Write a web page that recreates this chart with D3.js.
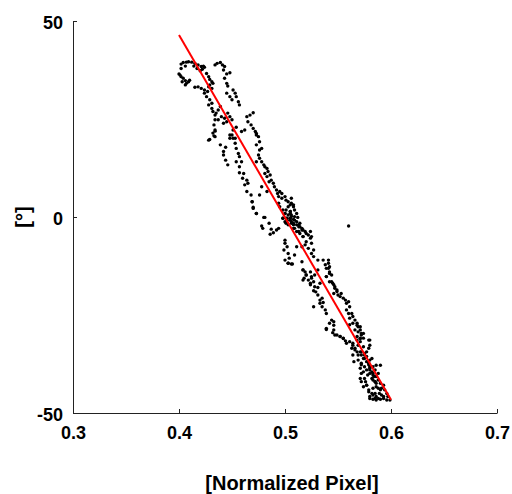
<!DOCTYPE html>
<html>
<head>
<meta charset="utf-8">
<script src="https://cdn.jsdelivr.net/npm/d3@7"></script>
<style>
  body { margin: 0; background: #fff; }
  svg text { font-family: "Liberation Sans", Arial, sans-serif; font-weight: bold; fill: #000; }
</style>
</head>
<body>
<svg id="chart"></svg>
<script>
    // measured samples: [normalized pixel, angle in degrees]
    var samples = [
      [0.402,39.0],[0.404,39.4],[0.407,39.5],[0.409,39.6],[0.412,39.5],[0.415,39.2],[0.418,38.8],[0.421,38.4],
      [0.423,38.5],[0.424,38.2],[0.422,37.7],[0.420,37.3],[0.417,37.9],[0.414,38.5],[0.406,38.5],[0.402,37.9],
      [0.400,36.5],[0.402,35.8],[0.404,35.4],[0.406,34.8],[0.403,34.5],[0.407,34.1],[0.409,34.5],[0.410,34.9],
      [0.406,33.7],[0.401,36.2],
      [0.434,38.8],[0.436,39.2],[0.439,39.4],[0.441,38.8],[0.443,38.4],[0.442,37.5],[0.445,36.5],[0.448,36.8],
      [0.443,35.4],[0.445,34.1],[0.446,33.4],
      [0.426,36.6],[0.428,35.8],[0.429,35.1],[0.431,34.5],[0.429,33.7],[0.432,34.1],[0.428,33.2],[0.431,32.8],
      [0.427,32.0],[0.424,31.6],[0.424,32.4],[0.421,32.8],[0.418,33.2],[0.415,33.1],[0.426,30.7],[0.429,29.9],
      [0.431,29.0],[0.428,28.6],[0.431,27.7],[0.432,26.9],[0.434,26.0],[0.435,26.5],[0.437,27.3],[0.439,28.2],
      [0.451,32.4],[0.453,31.6],[0.454,30.7],[0.456,29.4],[0.457,28.6],[0.450,29.9],[0.448,30.7],[0.445,31.6],
      [0.446,26.5],[0.448,25.6],[0.450,24.8],[0.445,24.3],[0.442,23.9],[0.443,25.2],[0.440,25.6],[0.437,24.8],
      [0.434,24.8],[0.433,23.5],[0.434,22.2],[0.432,21.4],[0.434,20.5],[0.429,19.8],
      [0.470,26.6],[0.467,26.0],[0.464,25.6],[0.465,24.3],[0.468,23.5],[0.470,22.6],[0.472,21.8],[0.473,20.9],
      [0.462,22.2],[0.459,21.8],[0.454,22.9],[0.451,22.2],[0.450,20.9],[0.453,20.1],[0.448,20.1],
      [0.434,21.9],[0.433,20.7],[0.428,19.6],[0.439,18.4],[0.444,17.8],[0.442,16.7],[0.442,15.8],[0.444,14.5],
      [0.446,13.3],[0.448,20.9],[0.451,20.1],[0.453,18.8],[0.454,17.5],[0.456,16.2],[0.457,15.4],[0.459,14.1],
      [0.454,14.1],[0.457,12.8],[0.457,11.3],[0.461,11.1],[0.460,9.9],[0.464,9.4],[0.465,8.6],[0.462,8.2],
      [0.464,6.5],[0.468,5.6],[0.469,3.9],[0.470,2.2],[0.473,0.9],[0.480,-0.1],
      [0.473,21.3],[0.475,20.5],[0.476,19.2],[0.473,18.4],[0.478,17.5],[0.476,17.1],[0.475,15.8],[0.476,15.0],
      [0.473,14.1],[0.478,14.1],[0.480,13.3],[0.481,12.8],[0.483,12.4],[0.484,11.6],[0.481,11.1],[0.483,10.3],
      [0.486,10.7],[0.487,9.4],[0.485,9.0],[0.478,7.7],[0.489,8.6],[0.490,7.7],[0.492,6.9],[0.493,6.0],
      [0.495,6.5],[0.497,6.0],[0.494,5.2],[0.497,4.8],[0.500,5.2],[0.501,4.3],[0.503,3.9],[0.506,4.8],
      [0.505,3.1],[0.508,2.6],[0.501,1.8],[0.505,1.4],[0.509,1.8],[0.511,0.9],[0.506,0.1],[0.512,-0.1],
      [0.501,-0.3],[0.508,-0.6],[0.476,5.6],[0.483,6.5],
      [0.469,3.9],[0.470,2.5],[0.473,0.9],[0.481,-0.1],[0.478,-2.3],[0.479,-2.9],[0.485,-1.6],[0.487,-3.1],
      [0.486,-4.4],[0.489,-4.0],[0.492,-3.3],[0.494,-2.9],[0.494,3.5],[0.495,2.6],[0.498,1.8],[0.500,0.9],
      [0.503,2.6],[0.506,3.5],[0.508,3.1],[0.505,0.9],[0.498,-0.3],[0.500,-1.2],[0.502,-0.3],[0.505,-0.8],
      [0.506,-1.6],[0.508,-2.0],[0.511,-1.2],[0.513,-2.0],[0.509,-2.9],[0.514,-2.5],[0.511,-3.7],[0.514,-4.2],
      [0.516,-3.3],[0.519,-3.7],[0.517,-5.0],[0.522,-4.6],[0.524,-5.4],[0.520,-6.3],[0.519,-7.1],[0.516,-7.6],
      [0.511,-7.6],[0.522,-8.0],[0.525,-6.7],[0.527,-8.4],[0.525,-9.3],[0.527,-10.1],
      [0.500,0.9],[0.503,0.5],[0.505,-0.3],[0.502,-0.8],[0.506,-1.2],[0.508,-1.6],[0.509,-0.8],[0.511,-2.0],
      [0.513,-2.5],[0.514,-1.6],[0.516,-2.9],[0.517,-3.3],[0.505,1.4],[0.498,-0.3],[0.501,-1.6],[0.503,-2.0],
      [0.508,-2.9],[0.513,-3.7],[0.509,0.1],[0.506,0.5],[0.520,-4.2],[0.524,-3.7],[0.525,-5.0],[0.517,-5.0],
      [0.500,-5.9],[0.500,-6.7],[0.502,-7.6],[0.499,-8.4],[0.503,-9.3],[0.500,-11.0],[0.503,-11.8],[0.506,-12.0],
      [0.504,-10.5],[0.509,-9.7],[0.516,-11.4],[0.517,-13.5],[0.519,-14.0],[0.520,-14.8],[0.517,-16.1],[0.522,-16.1],
      [0.525,-15.6],[0.524,-16.9],[0.531,-18.0],[0.533,-16.9],[0.528,-14.8],[0.531,-13.5],
      [0.531,-11.0],[0.536,-11.0],[0.541,-11.0],[0.538,-12.2],[0.541,-13.1],[0.542,-14.0],[0.539,-15.2],[0.544,-14.8],
      [0.542,-16.5],[0.545,-16.9],[0.547,-17.8],[0.549,-18.6],[0.560,-2.3],
      [0.503,-11.8],[0.507,-12.0],[0.517,-13.5],[0.520,-14.8],[0.518,-15.6],[0.524,-14.0],[0.525,-15.2],[0.527,-16.5],
      [0.524,-17.3],[0.528,-17.8],[0.527,-18.8],[0.529,-19.1],[0.531,-19.9],[0.533,-21.2],[0.535,-20.7],[0.533,-22.0],
      [0.536,-21.8],[0.535,-22.9],[0.538,-23.7],[0.539,-24.6],[0.527,-22.9],
      [0.541,-11.8],[0.542,-12.7],[0.539,-13.1],[0.542,-14.4],[0.539,-15.2],[0.544,-16.5],[0.546,-17.3],[0.547,-18.2],
      [0.549,-19.0],[0.546,-19.5],[0.550,-19.9],[0.552,-20.3],[0.553,-19.5],[0.555,-20.7],[0.557,-21.2],[0.558,-22.0],
      [0.560,-21.6],[0.561,-22.9],[0.558,-23.7],[0.560,-24.6],[0.563,-24.6],[0.564,-25.4],[0.561,-25.8],[0.566,-26.3],
      [0.568,-27.1],[0.569,-28.0],[0.571,-28.8],[0.572,-29.7],[0.568,-30.5],[0.571,-30.9],[0.574,-30.9],
      [0.544,-26.3],[0.542,-27.1],[0.539,-28.4],[0.546,-28.8],[0.547,-30.1],[0.552,-30.5],[0.555,-30.9],[0.561,-27.5],
      [0.566,-28.8],[0.580,-31.4],
      [0.539,-28.7],[0.546,-27.6],[0.546,-26.7],[0.545,-29.5],[0.549,-30.1],[0.552,-30.5],[0.555,-31.0],[0.557,-31.6],
      [0.558,-32.2],[0.561,-31.8],[0.564,-27.1],[0.568,-27.6],[0.571,-28.0],[0.569,-29.3],[0.572,-30.1],[0.574,-29.7],
      [0.571,-31.0],[0.568,-31.4],[0.564,-32.2],[0.563,-33.5],[0.566,-33.9],[0.564,-35.2],[0.565,-36.9],[0.569,-36.5],
      [0.572,-37.3],[0.574,-36.1],[0.575,-34.8],[0.577,-34.4],[0.579,-33.5],[0.580,-32.7],[0.579,-31.4],[0.574,-33.1],
      [0.571,-34.4],[0.572,-35.2],[0.577,-35.6],[0.580,-36.5],[0.582,-36.1],[0.579,-37.3],[0.575,-38.2],[0.577,-39.0],
      [0.580,-38.6],[0.583,-38.2],[0.585,-39.0],[0.586,-37.8],[0.590,-37.8],[0.588,-39.9],[0.586,-40.7],[0.583,-40.3],
      [0.580,-39.9],[0.582,-41.2],[0.585,-42.0],[0.588,-41.6],[0.590,-42.4],[0.593,-42.9],[0.591,-43.7],[0.594,-44.1],
      [0.596,-45.0],[0.597,-45.8],[0.599,-46.7],[0.596,-46.7],[0.593,-46.3],[0.590,-46.5],[0.586,-46.7],[0.583,-46.5],
      [0.580,-46.3],[0.579,-44.6],[0.583,-43.7],[0.585,-45.0],[0.586,-45.8],[0.572,-39.9],[0.571,-41.2],[0.572,-42.0],
      [0.574,-43.3],[0.577,-42.9],
      [0.575,-36.1],[0.577,-36.9],[0.579,-37.7],[0.580,-38.2],[0.580,-39.0],[0.582,-39.5],[0.583,-39.9],[0.584,-40.7],
      [0.583,-41.6],[0.585,-42.0],[0.586,-42.4],[0.586,-43.3],[0.588,-43.7],[0.590,-44.1],[0.589,-45.0],[0.591,-45.4],
      [0.593,-45.8],[0.583,-45.4],[0.585,-46.3],[0.588,-46.3],[0.580,-45.8],[0.582,-45.0],[0.579,-44.1],[0.577,-42.9],
      [0.576,-42.0],[0.575,-41.2],[0.578,-40.3],[0.574,-39.5],[0.571,-38.6],[0.572,-37.7],[0.569,-35.2],[0.568,-34.4],
      [0.566,-33.5],[0.569,-32.7],[0.571,-31.8],[0.572,-34.4],[0.575,-35.2],[0.564,-32.7]
    ];
    // fitted line end points
    var fitX = [0.4, 0.6];
    var fitY = [46.4, -46.6];
    var xTicks = [0.3, 0.4, 0.5, 0.6, 0.7];
    var xTickLabels = ['0.3', '0.4', '0.5', '0.6', '0.7'];
    var yTicks = [-50, 0, 50];
    var yTickLabels = ['-50', '0', '50'];

    var width = 512;
    var height = 494;
    var margin = {left: 73, right: 15, top: 21, bottom: 81};

    var svg = d3.select('#chart')
      .attr('width', width)
      .attr('height', height);

    var x = d3.scaleLinear().domain([0.3, 0.7]).range([margin.left, width - margin.right]);
    var y = d3.scaleLinear().domain([-50, 50]).range([height - margin.bottom, margin.top]);

    // dots
    svg.append('g')
      .selectAll('circle')
      .data(samples)
      .enter().append('circle')
      .attr('cx', function(d){ return x(d[0]); })
      .attr('cy', function(d){ return y(d[1]); })
      .attr('r', 1.7)
      .attr('fill', '#000');

    // fit line
    var line = d3.line()
      .x(function(d){ return x(d[0]); })
      .y(function(d){ return y(d[1]); });
    svg.append('path')
      .datum(fitX.map(function(v, i){ return [v, fitY[i]]; }))
      .attr('d', line)
      .attr('fill', 'none')
      .attr('stroke', '#ff0000')
      .attr('stroke-width', 2);

    // axes
    var xAxis = d3.axisBottom(x)
      .tickValues(xTicks)
      .tickFormat(function(d, i){ return xTickLabels[i]; })
      .tickSizeInner(-4).tickSizeOuter(0).tickPadding(13);
    var gx = svg.append('g')
      .attr('transform', 'translate(0,' + (height - margin.bottom) + ')')
      .call(xAxis);

    var yAxis = d3.axisLeft(y)
      .tickValues(yTicks)
      .tickFormat(function(d, i){ return yTickLabels[i]; })
      .tickSizeInner(-4).tickSizeOuter(0).tickPadding(10);
    var gy = svg.append('g')
      .attr('transform', 'translate(' + margin.left + ',0)')
      .call(yAxis);

    svg.selectAll('.domain, .tick line').attr('stroke', '#222');
    svg.selectAll('.tick text').attr('font-size', 18).attr('font-family', null);
    gy.selectAll('.tick text').attr('dy', '0.42em');

    // labels
    svg.append('text')
      .attr('x', 292)
      .attr('y', 490)
      .attr('text-anchor', 'middle')
      .attr('font-size', 20)
      .text('[Normalized Pixel]');

    svg.append('text')
      .attr('transform', 'translate(30,' + y(0) + ') rotate(-90)')
      .attr('text-anchor', 'middle')
      .attr('font-size', 20)
      .text('[°]');
</script>
</body>
</html>
